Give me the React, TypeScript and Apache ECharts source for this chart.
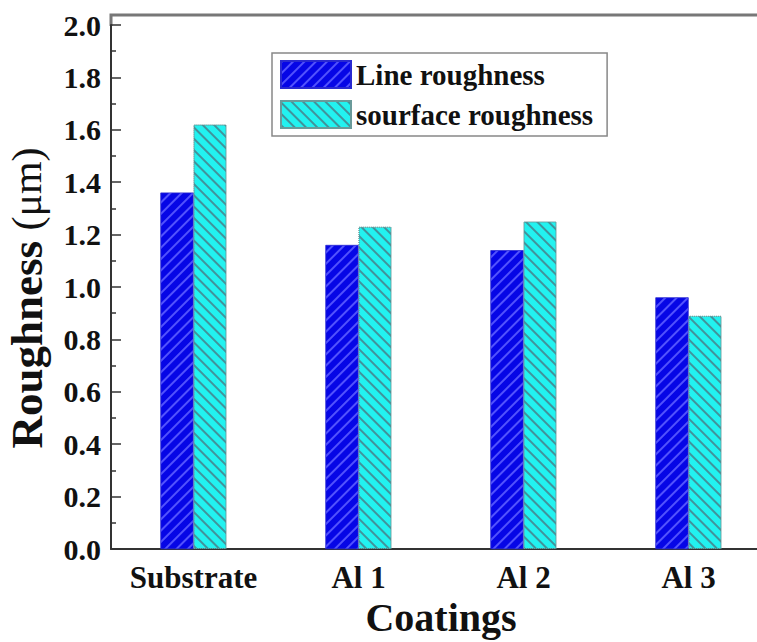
import React, { useEffect, useRef } from "react";
import * as echarts from "echarts";

const categories = ["Substrate", "Al 1", "Al 2", "Al 3"];
const lineRoughness = [1.36, 1.16, 1.14, 0.96];
const surfaceRoughness = [1.62, 1.23, 1.25, 0.89];
const seriesNames = ["Line roughness", "sourface roughness"];
const yTicks = { min: 0, max: 2.0, interval: 0.2 };

const FONT = "'Liberation Serif', 'Times New Roman', serif";

export default function App() {
  const ref = useRef<HTMLDivElement>(null);
  useEffect(() => {
    if (!ref.current) return;
    const chart = echarts.init(ref.current, undefined, { renderer: "svg" });
    chart.setOption({
      animation: false,
      backgroundColor: "#fff",
      aria: { enabled: true, decal: { show: true } },
      grid: {
        left: 111,
        top: 25,
        bottom: 93,
        right: -14,
        containLabel: false,
        outerBoundsMode: "none",
      },
      legend: {
        orient: "vertical",
        left: 272,
        top: 53,
        itemWidth: 70,
        itemHeight: 27,
        itemGap: 11,
        icon: "rect",
        padding: [7, 14, 7, 8],
        borderColor: "#888",
        borderWidth: 1.5,
        textStyle: { fontFamily: FONT, fontWeight: "bold", fontSize: 29, color: "#111" },
        data: seriesNames,
      },
      xAxis: {
        type: "category",
        data: categories,
        axisLine: { lineStyle: { color: "#333", width: 2 } },
        axisTick: { inside: true, length: 8, lineStyle: { color: "#333", width: 1.5 } },
        axisLabel: {
          interval: 0,
          hideOverlap: false,
          fontFamily: FONT,
          fontWeight: "bold",
          fontSize: 31,
          color: "#111",
          margin: 13,
        },
        name: "Coatings",
        nameLocation: "middle",
        nameGap: 42,
        nameTextStyle: { fontFamily: FONT, fontWeight: "bold", fontSize: 40, color: "#111" },
      },
      yAxis: {
        type: "value",
        min: yTicks.min,
        max: yTicks.max,
        interval: yTicks.interval,
        splitLine: { show: false },
        axisLine: { show: true, lineStyle: { color: "#333", width: 2 } },
        axisTick: { show: true, inside: true, length: 10, lineStyle: { color: "#333", width: 1.5 } },
        minorTick: { show: true, splitNumber: 2, length: 5, lineStyle: { color: "#333", width: 1.5 } },
        axisLabel: {
          fontFamily: FONT,
          fontWeight: "bold",
          fontSize: 30,
          color: "#111",
          margin: 10,
          formatter: (v: number) => v.toFixed(1),
        },
        name: "{b|Roughness}{r| (μm)}",
        nameLocation: "middle",
        nameGap: 62,
        nameRotate: 90,
        nameTextStyle: {
          padding: [0, 22, 0, 0],
          rich: {
            b: { fontFamily: FONT, fontWeight: "bold", fontSize: 45, color: "#111" },
            r: { fontFamily: FONT, fontWeight: "normal", fontSize: 42, color: "#111" },
          },
        },
      },
      series: [
        {
          name: seriesNames[0],
          type: "bar",
          data: lineRoughness,
          barWidth: 33,
          barGap: "0%",
          itemStyle: {
            color: "#0606e6",
            borderColor: "#2a2ad0",
            borderWidth: 0.5,
            decal: {
              symbol: "rect",
              symbolSize: 1,
              dashArrayX: [1, 0],
              dashArrayY: [1.5, 6],
              rotation: -Math.PI / 4,
              color: "rgba(90,90,255,0.9)",
            },
          },
        },
        {
          name: seriesNames[1],
          type: "bar",
          data: surfaceRoughness,
          barWidth: 33,
          itemStyle: {
            color: "#22f2f0",
            borderColor: "#6a9a9a",
            borderWidth: 1,
            borderType: "dotted",
            decal: {
              symbol: "rect",
              symbolSize: 1,
              dashArrayX: [1, 0],
              dashArrayY: [1.5, 6],
              rotation: Math.PI / 4,
              color: "rgba(70,130,140,0.85)",
            },
          },
        },
      ],
      graphic: [
        {
          type: "polyline",
          shape: { points: [[111, 26], [111, 15], [757, 15]] },
          style: { stroke: "#777", lineWidth: 3, fill: "none" },
          silent: true,
        },
      ],
    });
    return () => chart.dispose();
  }, []);
  return (
    <div
      ref={ref}
      style={{ position: "absolute", left: 0, top: 0, width: 757, height: 642 }}
    />
  );
}
